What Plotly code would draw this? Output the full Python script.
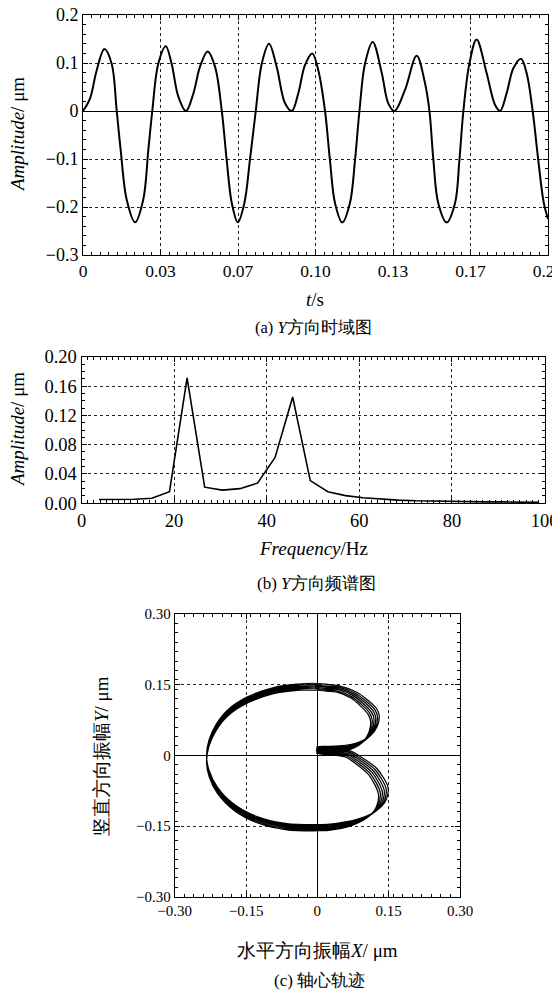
import plotly.graph_objects as go

# ---------------- data ----------------
# (a) Y-direction time signal
t_s = [0.0000, 0.0030, 0.0059, 0.0092, 0.0123, 0.0145, 0.0162, 0.0188, 0.0224, 0.0259,
       0.0281, 0.0298, 0.0324, 0.0356, 0.0381, 0.0410, 0.0443, 0.0475, 0.0503, 0.0536,
       0.0568, 0.0597, 0.0618, 0.0640, 0.0666, 0.0694, 0.0718, 0.0743, 0.0769, 0.0800,
       0.0833, 0.0869, 0.0898, 0.0926, 0.0955, 0.0986, 0.1012, 0.1041, 0.1062, 0.1084,
       0.1115, 0.1148, 0.1170, 0.1189, 0.1213, 0.1246, 0.1285, 0.1313, 0.1340, 0.1385,
       0.1435, 0.1471, 0.1490, 0.1507, 0.1528, 0.1564, 0.1600, 0.1619, 0.1636, 0.1662,
       0.1693, 0.1736, 0.1772, 0.1794, 0.1822, 0.1851, 0.1884, 0.1908, 0.1934, 0.1958,
       0.1982, 0.2000]
amp_y = [0.000, 0.026, 0.085, 0.129, 0.099, 0.000, -0.081, -0.185, -0.232, -0.185,
         -0.081, 0.000, 0.099, 0.135, 0.099, 0.030, 0.000, 0.037, 0.092, 0.124,
         0.092, 0.000, -0.102, -0.192, -0.232, -0.192, -0.102, 0.000, 0.099, 0.140,
         0.092, 0.016, 0.000, 0.037, 0.096, 0.120, 0.085, 0.000, -0.102, -0.192,
         -0.232, -0.192, -0.102, 0.000, 0.099, 0.144, 0.079, 0.016, 0.000, 0.044,
         0.115, 0.058, 0.000, -0.102, -0.192, -0.232, -0.192, -0.102, 0.000, 0.099,
         0.149, 0.079, 0.013, 0.000, 0.037, 0.089, 0.109, 0.079, 0.000, -0.102,
         -0.192, -0.225]
t_tick_vals = [0, 0.0333333, 0.0666667, 0.1, 0.1333333, 0.1666667, 0.2]
t_tick_text = ["0", "0.03", "0.07", "0.10", "0.13", "0.17", "0.20"]
a_y_tick_vals = [-0.3, -0.2, -0.1, 0, 0.1, 0.2]
a_y_tick_text = ["\u22120.3", "\u22120.2", "\u22120.1", "0", "0.1", "0.2"]

# (b) Y-direction spectrum
freq_hz = [3.8, 7.6, 11.4, 15.2, 19.0, 22.8, 26.6, 30.4, 34.2, 38.0, 41.8, 45.6, 49.4,
           53.2, 57.0, 60.8, 64.6, 68.4, 72.2, 76.0, 79.8, 83.6, 87.4, 91.2, 95.0, 98.8]
spec_amp = [0.0052, 0.0052, 0.0055, 0.0068, 0.0158, 0.171, 0.0220, 0.0180, 0.0200, 0.0275,
            0.0625, 0.1450, 0.0310, 0.0158, 0.0105, 0.0075, 0.0055, 0.0043, 0.0034, 0.0028,
            0.0023, 0.0021, 0.0020, 0.0019, 0.0013, 0.0012]
b_x_tick_vals = [0, 20, 40, 60, 80, 100]
b_x_tick_text = ["0", "20", "40", "60", "80", "100"]
b_y_tick_vals = [0, 0.04, 0.08, 0.12, 0.16, 0.20]
b_y_tick_text = ["0.00", "0.04", "0.08", "0.12", "0.16", "0.20"]

# (c) shaft-centre orbit: outermost revolution
orbit_x = [0.000, 0.048, 0.083, 0.105, 0.124, 0.130, 0.126, 0.111, 0.088, 0.070, 0.045, 0.015,
           -0.002, 0.015, 0.045, 0.070, 0.088, 0.125, 0.149, 0.143, 0.122, 0.083, 0.027,
           0.000, -0.064, -0.127, -0.175, -0.210, -0.228, -0.233, -0.228, -0.214, -0.189,
           -0.147, -0.092, -0.043, 0.000]
orbit_y = [0.152, 0.147, 0.134, 0.118, 0.100, 0.085, 0.062, 0.041, 0.028, 0.023, 0.020, 0.019,
           0.018, 0.015, 0.013, 0.009, -0.001, -0.028, -0.069, -0.098, -0.119, -0.136, -0.146,
           -0.147, -0.145, -0.130, -0.104, -0.068, -0.031, 0.000, 0.032, 0.064, 0.096,
           0.124, 0.144, 0.151, 0.152]
# drift between successive revolutions
loop_x_scale = [1.00, 0.972, 0.944, 0.916, 0.888, 0.862]
loop_y_shift = [0.000, -0.0026, -0.0052, -0.0078, -0.0104, -0.013]
c_tick_vals = [-0.3, -0.15, 0, 0.15, 0.3]
c_tick_text = ["\u22120.30", "\u22120.15", "0", "0.15", "0.30"]

# ---------------- layout helpers ----------------
W, H = 560, 993
OFF = 8  # page body margin: figure starts 8 px in from the window corner
SERIF = "Liberation Serif"


def xdom(left, right):
    return [(left - OFF) / W, (right - OFF) / W]


def ydom(top, bottom):
    return [1 - (bottom - OFF) / H, 1 - (top - OFF) / H]


def axis(domain, anchor, rng, tv, tt, minor_dtick, fsize, zeroline=False):
    return dict(
        domain=domain, anchor=anchor, range=rng, tickmode="array",
        tickvals=tv, ticktext=tt, automargin=False, ticklabeloverflow="allow",
        tickfont=dict(family=SERIF, size=fsize, color="black"),
        showline=True, linecolor="black", linewidth=1, mirror="ticks",
        ticks="inside", ticklen=5, tickcolor="black", tickwidth=1,
        showgrid=True, gridcolor="#222", griddash="dot", gridwidth=1,
        zeroline=zeroline, zerolinecolor="black", zerolinewidth=1,
        minor=dict(ticks="inside", ticklen=3, tickcolor="black", tickwidth=1,
                   dtick=minor_dtick, tick0=0, showgrid=False),
        fixedrange=True,
    )


fig = go.Figure()

fig.add_trace(go.Scatter(x=t_s, y=amp_y, mode="lines",
                         line=dict(color="black", width=2, shape="spline", smoothing=1.0),
                         xaxis="x", yaxis="y", showlegend=False))

fig.add_trace(go.Scatter(x=freq_hz, y=spec_amp, mode="lines",
                         line=dict(color="black", width=1.6),
                         xaxis="x2", yaxis="y2", showlegend=False))

ox, oy = [], []
for s, dy in zip(loop_x_scale, loop_y_shift):
    ox += [x * s if x > 0 else x for x in orbit_x]
    oy += [y + dy for y in orbit_y]
fig.add_trace(go.Scatter(x=ox, y=oy, mode="lines",
                         line=dict(color="black", width=1.25, shape="spline", smoothing=0.8),
                         xaxis="x3", yaxis="y3", showlegend=False))

fig.update_layout(
    width=W, height=H, margin=dict(l=0, r=0, t=0, b=0, autoexpand=False),
    paper_bgcolor="white", plot_bgcolor="white",
    font=dict(family=SERIF, color="black"),
    xaxis=axis(xdom(83, 548), "y", [0, 0.2], t_tick_vals, t_tick_text, 0.2 / 54, 17.5),
    yaxis=axis(ydom(15, 255), "x", [-0.3, 0.2], a_y_tick_vals, a_y_tick_text, 0.02, 18, zeroline=True),
    xaxis2=axis(xdom(81.5, 544.6), "y2", [0, 100], b_x_tick_vals, b_x_tick_text, 20 / 15, 18.5),
    yaxis2=axis(ydom(356.7, 503.3), "x2", [0, 0.2], b_y_tick_vals, b_y_tick_text, 0.01, 18.5),
    xaxis3=axis(xdom(174.7, 460), "y3", [-0.3, 0.3], c_tick_vals, c_tick_text, 0.02, 15, zeroline=True),
    yaxis3=axis(ydom(614, 896.7), "x3", [-0.3, 0.3], c_tick_vals, c_tick_text, 0.02, 15, zeroline=True),
)


def ann(text, px, py, size=16, angle=0):
    fig.add_annotation(text=text, x=(px - OFF) / W, y=1 - (py - OFF) / H,
                       xref="paper", yref="paper",
                       showarrow=False, xanchor="center", yanchor="middle",
                       textangle=angle, font=dict(family=SERIF, size=size, color="black"))


ann("<i>Amplitude</i>/ μm", 18, 135, 19, -90)
ann("<i>t</i>/s", 315, 299, 19)
ann("(a) <i>Y</i>方向时域图", 314, 327, 16.5)

ann("<i>Amplitude</i>/ μm", 17, 430, 19, -90)
ann("<i>Frequency</i>/Hz", 313, 548, 19)
ann("(b) <i>Y</i>方向频谱图", 316, 583, 17)

ann("竖直方向振幅<i>Y</i>/ μm", 101, 756, 19, -90)
ann("水平方向振幅<i>X</i>/ μm", 317, 950, 19)
ann("(c) 轴心轨迹", 319, 980, 17)

fig.write_html("out.html")
